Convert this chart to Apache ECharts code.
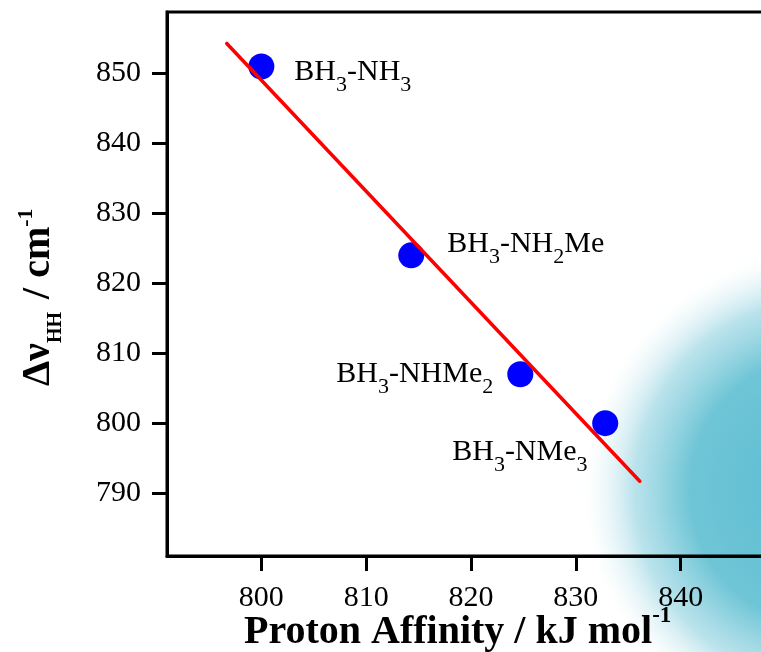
<!DOCTYPE html>
<html>
<head>
<meta charset="utf-8">
<script src="https://cdn.jsdelivr.net/npm/echarts@6/dist/echarts.min.js"></script>
<style>
  html, body { margin: 0; padding: 0; background: #ffffff; }
  #chart { width: 761px; height: 652px; }
</style>
</head>
<body>
<div id="chart"></div>
<script>
// Measured values: proton affinity (kJ/mol) vs. H-H stretch shift (cm^-1)
const compoundNames = ['BH3-NH3', 'BH3-NH2Me', 'BH3-NHMe2', 'BH3-NMe3'];
const protonAffinity = [800, 814.3, 824.7, 832.8];
const deltaNuHH = [851, 824, 807, 800];

// Linear fit drawn as a straight segment
const fitX = [796.7, 836.1];
const fitY = [854.3, 791.7];

// Axis ticks
const xTicks = [800, 810, 820, 830, 840];
const yTicks = [790, 800, 810, 820, 830, 840, 850];

const SERIF = '"Liberation Serif", "Times New Roman", Times, serif';

// Turn "BH3-NH2Me" into rich text with subscripted digits
function formula(name) {
  return name.replace(/([^0-9]+)|([0-9]+)/g, (m, txt, num) =>
    txt ? '{m|' + txt + '}' : '{s|' + num + '}');
}

// Where each compound label sits relative to its marker box (px)
const labelPlacement = [[46, 4], [49, -13], [-171, -2], [-140, 27]];

const formulaRich = {
  m: { fontFamily: SERIF, fontSize: 30, lineHeight: 30, verticalAlign: 'top', color: '#000' },
  s: { fontFamily: SERIF, fontSize: 22, lineHeight: 22, padding: [17, 0, 0, 0], verticalAlign: 'top', color: '#000' }
};

const pointData = protonAffinity.map((x, i) => ({
  value: [x, deltaNuHH[i]],
  label: {
    show: true,
    position: labelPlacement[i],
    align: 'left',
    verticalAlign: 'top',
    color: '#000',
    formatter: formula(compoundNames[i]),
    rich: formulaRich
  }
}));

const chart = echarts.init(document.getElementById('chart'), null, { renderer: 'canvas' });

const axisCommon = {
  type: 'value',
  axisLine: { show: true, lineStyle: { color: '#000', width: 3 } },
  axisTick: { show: true, inside: false, length: 15, lineStyle: { color: '#000', width: 3 } },
  splitLine: { show: false },
  axisLabel: { color: '#000', fontFamily: SERIF, fontSize: 30 }
};

chart.setOption({
  animation: false,
  backgroundColor: '#ffffff',
  grid: {
    left: 167, right: -35, top: 12, bottom: 96,
    outerBoundsMode: 'none',
    containLabel: false,
    show: true, borderColor: '#000', borderWidth: 3, backgroundColor: 'transparent'
  },
  xAxis: Object.assign({}, axisCommon, {
    min: 791, max: 851,
    axisTick: Object.assign({}, axisCommon.axisTick, { customValues: xTicks }),
    axisLabel: Object.assign({}, axisCommon.axisLabel, { customValues: xTicks, margin: 27 })
  }),
  yAxis: Object.assign({}, axisCommon, {
    min: 781, max: 858.8,
    axisTick: Object.assign({}, axisCommon.axisTick, { customValues: yTicks }),
    axisLabel: Object.assign({}, axisCommon.axisLabel, { customValues: yTicks, margin: 26 })
  }),
  graphic: [
    {
      // soft teal glow in the lower right corner
      type: 'circle',
      z: -10,
      silent: true,
      shape: { cx: 825, cy: 490, r: 245 },
      style: {
        fill: {
          type: 'radial', x: 0.5, y: 0.5, r: 0.5,
          colorStops: [
            { offset: 0, color: 'rgba(88,188,208,1)' },
            { offset: 0.55, color: 'rgba(98,192,210,0.92)' },
            { offset: 0.78, color: 'rgba(130,204,220,0.55)' },
            { offset: 0.92, color: 'rgba(190,228,236,0.18)' },
            { offset: 1, color: 'rgba(255,255,255,0)' }
          ]
        }
      }
    },
    {
      type: 'text',
      x: 244, y: 605,
      style: {
        text: '{b|Proton Affinity / kJ mol}{p|-1}',
        align: 'left', verticalAlign: 'top',
        rich: {
          b: { fontFamily: SERIF, fontWeight: 'bold', fontSize: 40, lineHeight: 40, padding: [8, 0, 0, 0], verticalAlign: 'top', fill: '#000' },
          p: { fontFamily: SERIF, fontWeight: 'bold', fontSize: 23, lineHeight: 23, verticalAlign: 'top', fill: '#000' }
        }
      }
    },
    {
      type: 'text',
      x: 11, y: 386,
      rotation: Math.PI / 2,
      style: {
        text: '{a|Δν}{s|HH}{g|/ cm}{p|-1}',
        align: 'left', verticalAlign: 'top',
        rich: {
          a: { fontFamily: SERIF, fontWeight: 'bold', fontSize: 40, lineHeight: 40, padding: [8, 0, 0, 0], verticalAlign: 'top', fill: '#000' },
          g: { fontFamily: SERIF, fontWeight: 'bold', fontSize: 40, lineHeight: 40, padding: [8, 0, 0, 13], verticalAlign: 'top', fill: '#000' },
          s: { fontFamily: SERIF, fontWeight: 'bold', fontSize: 20, lineHeight: 20, padding: [35, 0, 0, 0], verticalAlign: 'top', fill: '#000' },
          p: { fontFamily: SERIF, fontWeight: 'bold', fontSize: 22, lineHeight: 22, padding: [4, 0, 0, 0], verticalAlign: 'top', fill: '#000' }
        }
      }
    }
  ],
  series: [
    {
      type: 'scatter',
      z: 2,
      symbol: 'circle',
      symbolSize: 26,
      itemStyle: { color: '#0000ff', opacity: 1 },
      data: pointData
    },
    {
      type: 'line',
      z: 3,
      symbol: 'none',
      lineStyle: { color: '#ff0000', width: 3.5, cap: 'round' },
      data: fitX.map((x, i) => [x, fitY[i]])
    }
  ]
});
</script>
</body>
</html>
